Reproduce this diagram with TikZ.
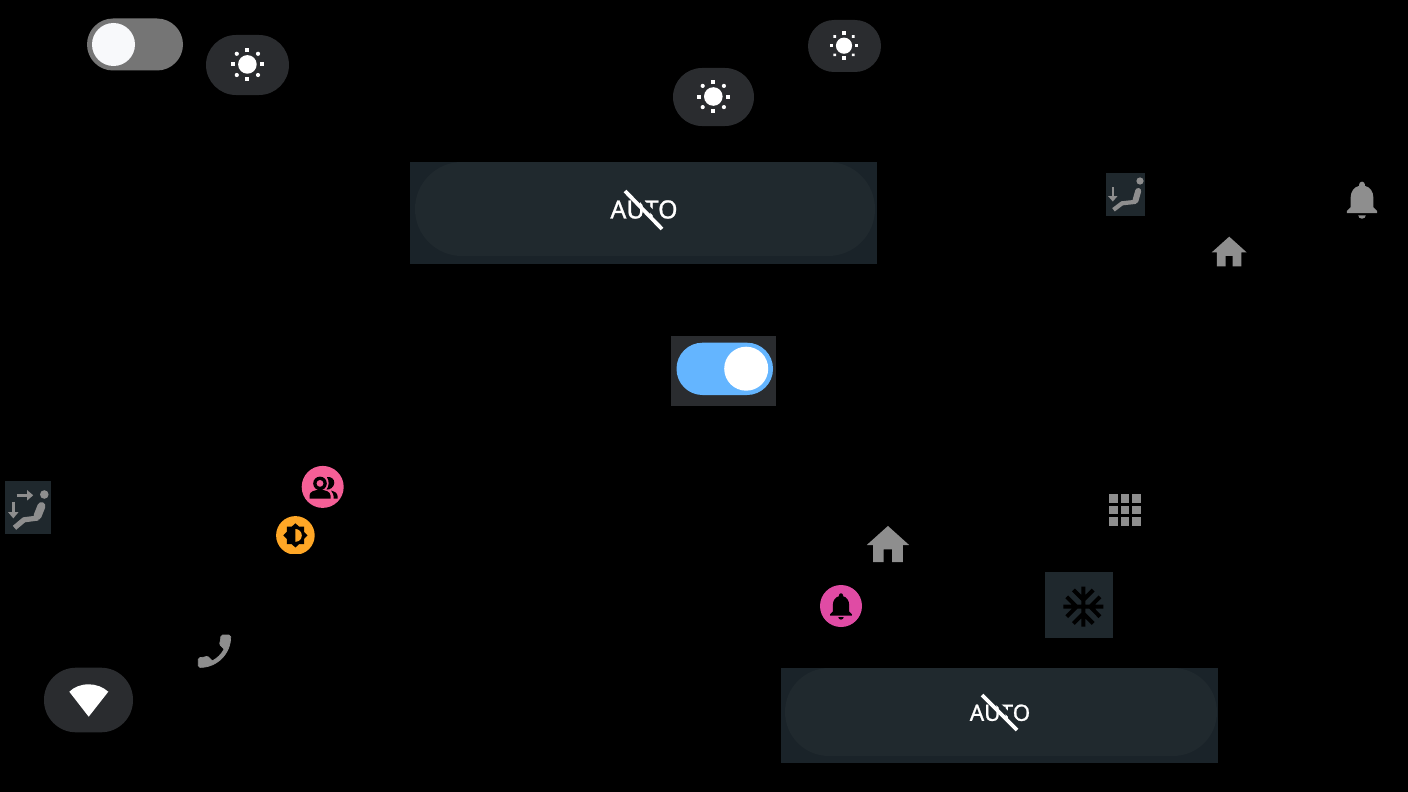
\documentclass[tikz,border=0pt]{standalone}
\usepackage{fontspec}
\setmainfont{Noto Sans}
\usetikzlibrary{calc}
\definecolor{pillgray}{HTML}{2A2C2F}
\definecolor{teal}{HTML}{1A2329}
\definecolor{tealpill}{HTML}{20292E}
\definecolor{seatbox}{HTML}{1F282D}
\definecolor{icongray}{HTML}{8E8E8E}
\definecolor{bluepill}{HTML}{64B5FF}
\definecolor{knob}{HTML}{F8F9FB}
\definecolor{pinkA}{HTML}{F55F97}
\definecolor{pinkB}{HTML}{E04BA4}
\definecolor{amber}{HTML}{FFA726}
\definecolor{togglegray}{HTML}{757575}
\newcommand{\sunicon}[3]{%
  \begin{scope}[shift={(#1,#2)},scale=#3]
    \fill[white] (0,0) circle (9.3);
    \foreach \a in {0,90,180,270}{\fill[white,rotate=\a] (-2,-16.4) rectangle (2,-12.4);}
    \foreach \a in {45,135,225,315}{\fill[white,rotate=\a] (0,-15) circle (2.1);}
  \end{scope}}
\newcommand{\bellicon}[4]{%
  \fill[#4,shift={(#1,#2)},scale=#3] (10,20.2) .. controls (10,21.2) and (10.9,22) .. (12,22) .. controls (13.1,22) and (14,21.2) .. (14,20.2) -- cycle
  (18,16) -- (18,11) .. controls (18,7.93) and (16.36,5.36) .. (13.5,4.68) -- (13.5,4) .. controls (13.5,3.17) and (12.83,2.5) .. (12,2.5) .. controls (11.17,2.5) and (10.5,3.17) .. (10.5,4) -- (10.5,4.68) .. controls (7.63,5.36) and (6,7.92) .. (6,11) -- (6,16) -- (4,18) -- (4,19) -- (20,19) -- (20,18) -- cycle;}
\newcommand{\homeicon}[3]{%
  \fill[icongray,shift={(#1,#2)},scale=#3] (10,20) -- (10,14) -- (14,14) -- (14,20) -- (19,20) -- (19,12) -- (22,12) -- (12,3) -- (2,12) -- (5,12) -- (5,20) -- cycle;}
\newcommand{\autolabel}[6]{%
  \node[text=white,font=\fontsize{#3}{#3}\selectfont,inner sep=0pt] (#6) at (#1,#2) {\addfontfeature{FakeBold=1}AUTO};
  \draw[tealpill,line width=4pt] ($(#4)+(3.6,-3.6)$) -- ($(#5)+(3.6,-3.6)$);
  \draw[white,line width=3.8pt] (#4) -- (#5);}
\begin{document}
\begin{tikzpicture}[x=1pt,y=-1pt]
\useasboundingbox (0,0) rectangle (1408,792);
\fill[black] (0,0) rectangle (1408,792);
% grey toggle
\fill[togglegray,rounded corners=26pt] (87,18.5) rectangle (183,70.5);
\fill[knob] (113.5,44.5) circle (21.5);
% sun pills
\fill[pillgray,rounded corners=30pt] (206,35) rectangle (289,95);
\sunicon{247.4}{64.4}{1}
\fill[pillgray,rounded corners=29pt] (673,68) rectangle (754,126);
\sunicon{713.3}{96.5}{1}
\fill[pillgray,rounded corners=26pt] (808,20) rectangle (881,72);
\sunicon{844}{45.7}{0.87}
% AUTO 1
\fill[teal] (410,162) rectangle (877,264);
\fill[tealpill,rounded corners=47pt] (415,162) rectangle (875,256);
\autolabel{644}{209.5}{25}{625,191}{662,229}{autoA}
% seat 1
\fill[seatbox] (1106,173) rectangle (1145,216);
\fill[icongray] (1140,181) circle (3.6);
\draw[icongray,line width=6pt,line cap=round] (1138.2,191) -- (1135.5,200.5);
\draw[icongray,line width=4.2pt,line join=round] (1136,201.8) -- (1122,203.3) -- (1113.5,209.8);
\draw[icongray,line width=2.2pt] (1112.8,187) -- (1112.8,197);
\fill[icongray] (1108,196) -- (1117.6,196) -- (1112.8,201.5) -- cycle;
% bell 1
\bellicon{1339.2}{176.9}{1.9}{icongray}
% home icons
\homeicon{1208.2}{231.4}{1.75}
\homeicon{862.5}{519.6}{2.12}
% blue toggle
\fill[pillgray] (671,336) rectangle (776,406);
\fill[bluepill,rounded corners=26pt] (676.5,342.7) rectangle (773,395);
\fill[white] (746.2,368.7) circle (22);
% seat 2
\fill[seatbox] (5,481) rectangle (51,534);
\fill[icongray] (44.3,494.5) circle (4.3);
\draw[icongray,line width=8pt,line cap=round] (41.5,506) -- (37.5,516);
\draw[icongray,line width=5.2pt,line join=round] (38,518) -- (24,519.8) -- (14.5,527.8);
\draw[icongray,line width=3pt] (16.5,495.3) -- (28,495.3);
\fill[icongray] (27,490) -- (27,500.6) -- (33.2,495.3) -- cycle;
\draw[icongray,line width=3pt] (13.3,501.5) -- (13.3,513);
\fill[icongray] (8,512) -- (18.6,512) -- (13.3,518.4) -- cycle;
% pink people
\fill[pinkA] (322.7,486.9) circle (21);
\fill[black] (320,483.4) circle (6.8);
\fill[pinkA] (320,483.4) circle (3.4);
\fill[black] (309.5,498.6) -- (309.5,495.5) .. controls (309.5,491.5) and (315,489.8) .. (320,489.8) .. controls (325,489.8) and (330.5,491.5) .. (330.5,495.5) -- (330.5,498.6) -- cycle;
\fill[black] (327,477.2) .. controls (331,476.2) and (334.5,479) .. (334.3,483) .. controls (334,487) and (330,490) .. (326.5,489.6) .. controls (329,486.5) and (329.5,481) .. (327,477.2) -- cycle;
\fill[black] (331,490.5) .. controls (334.5,491.5) and (337.5,493) .. (337.5,496) -- (337.5,498.6) -- (333.7,498.6) .. controls (333.7,495) and (333,492.5) .. (331,490.5) -- cycle;
% amber brightness
\begin{scope}
\clip (270,510) rectangle (320,553.8);
\fill[amber] (295.4,535.4) circle (19.3);
\end{scope}
\fill[black] (295.4,523.3) -- (299,526.6) -- (304,526.6) -- (304,531.8) -- (307.5,535.4) -- (304,539) -- (304,544.2) -- (299,544.2) -- (295.4,547.5) -- (291.8,544.2) -- (286.8,544.2) -- (286.8,539) -- (283.3,535.4) -- (286.8,531.8) -- (286.8,526.6) -- (291.8,526.6) -- cycle;
\fill[amber] (295.4,529) .. controls (299,529) and (301.8,532) .. (301.8,535.4) .. controls (301.8,539) and (299,541.8) .. (295.4,541.8) -- cycle;
% grid
\foreach \gx in {1113.3,1125,1136.7}\foreach \gy in {498.3,510,521.7}
  \fill[icongray] (\gx-4.3,\gy-4.3) rectangle (\gx+4.3,\gy+4.3);
% snowflake
\fill[seatbox] (1045,572) rectangle (1112.7,637.7);
\fill[black,shift={(1059.3,582.7)},scale=2] (22,11) -- (17.83,11) -- (21.07,7.76) -- (19.66,6.34) -- (15,11) -- (13,11) -- (13,9) -- (17.66,4.34) -- (16.24,2.93) -- (13,6.17) -- (13,2) -- (11,2) -- (11,6.17) -- (7.76,2.93) -- (6.34,4.34) -- (11,9) -- (11,11) -- (9,11) -- (4.41,6.34) -- (3,7.76) -- (6.24,11) -- (2,11) -- (2,13) -- (6.24,13) -- (3,16.24) -- (4.41,17.66) -- (9,13) -- (11,13) -- (11,15) -- (6.34,19.66) -- (7.76,21.07) -- (11,17.83) -- (11,22) -- (13,22) -- (13,17.83) -- (16.24,21.07) -- (17.66,19.66) -- (13,15) -- (13,13) -- (15,13) -- (19.59,17.66) -- (21,16.24) -- (17.83,13) -- (22,13) -- cycle;
% pink bell
\fill[pinkB] (841,606) circle (21);
\bellicon{824.8}{589.9}{1.35}{black}
% phone
\filldraw[icongray,line width=0.7pt,shift={(236.1,629.6)},xscale=-1.8,yscale=1.8] (6.62,10.79) .. controls (8.06,13.62) and (10.38,15.93) .. (13.21,17.38) -- (15.41,15.18) .. controls (15.68,14.91) and (16.08,14.82) .. (16.43,14.94) .. controls (17.55,15.31) and (18.76,15.51) .. (20,15.51) .. controls (20.55,15.51) and (21,15.96) .. (21,16.51) -- (21,20) .. controls (21,20.55) and (20.55,21) .. (20,21) .. controls (10.61,21) and (3,13.39) .. (3,4) .. controls (3,3.45) and (3.45,3) .. (4,3) -- (7.5,3) .. controls (8.05,3) and (8.5,3.45) .. (8.5,4) .. controls (8.5,5.25) and (8.7,6.45) .. (9.07,7.57) .. controls (9.18,7.92) and (9.1,8.31) .. (8.82,8.59) -- cycle;
% wifi pill
\fill[pillgray,rounded corners=32pt] (44,667.7) rectangle (133,732.3);
\fill[white] (88.7,716.7) -- (69.3,691.7) .. controls (74,687) and (81,684.3) .. (88.7,684.3) .. controls (96,684.3) and (103,687) .. (108.3,691.7) -- cycle;
% AUTO 2
\fill[teal] (781,668) rectangle (1218,763);
\fill[tealpill,rounded corners=44pt] (785,668) rectangle (1217,756);
\autolabel{1000}{712.8}{22.5}{982,695}{1017,730}{autoB}
\end{tikzpicture}
\end{document}
